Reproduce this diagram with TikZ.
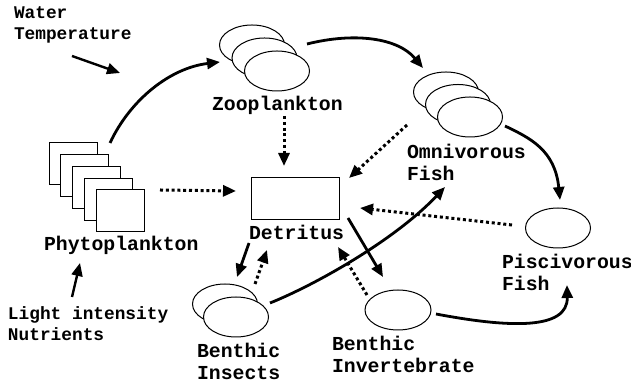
\documentclass[tikz,border=0pt]{standalone}
\usepackage{fontspec}
\newfontfamily\labfont{Liberation Mono}
\usetikzlibrary{arrows.meta, shapes.geometric, calc}

\begin{document}
\begin{tikzpicture}[x=0.5pt, y=-0.5pt, >={Triangle[length=6.5pt,width=5.5pt]},
  every node/.style={inner sep=0pt, outer sep=0pt},
  taxon/.style={font=\labfont\bfseries\fontsize{9.9}{11.4}\selectfont, align=left, anchor=base west},
  factor/.style={font=\labfont\bfseries\fontsize{8.9}{10.5}\selectfont, align=left, anchor=base west},
  blob/.style={ellipse, draw, fill=white, line width=0.5pt, minimum width=32.5pt, minimum height=20pt},
  cell/.style={rectangle, draw, fill=white, line width=0.5pt, minimum width=24pt, minimum height=21pt},
  feed/.style={->, line width=1.4pt},
  decay/.style={->, line width=1.5pt, dash pattern=on 1.5pt off 1.4pt}]
  \useasboundingbox (0,0) rectangle (631,383);

  % Phytoplankton
  \foreach \i/\n in {0/phyA,1/phyB,2/phyC,3/phyD,4/phyE}
    \node[cell] (\n) at (73+11.75*\i, 164+11.75*\i) {};

  % Zooplankton
  \node[blob] (zooA) at (252,45) {};
  \node[blob] (zooB) at (264.5,58) {};
  \node[blob] (zooC) at (277,71) {};

  % Omnivorous fish
  \node[blob] (omniA) at (446,92) {};
  \node[blob] (omniB) at (458,104.5) {};
  \node[blob] (omniC) at (470,117) {};

  % Piscivorous fish, benthos
  \node[blob] (pisc) at (558,228) {};
  \node[blob] (insA) at (225,304) {};
  \node[blob] (insB) at (236,317) {};
  \node[blob, minimum width=33pt] (inv) at (398,310) {};

  % Detritus
  \node[draw, line width=0.5pt, minimum width=44pt, minimum height=21pt] (det) at (295,199) {};

  % Labels (base = last line)
  \node[factor] (water) at (14,40) {Water\\Temperature};
  \node[factor] (light) at (8,341) {Light intensity\\Nutrients};
  \node[taxon] (tZoo) at (212,111) {Zooplankton};
  \node[taxon] (tOmni) at (407,181) {Omnivorous\\Fish};
  \node[taxon] (tPhy) at (44,251) {Phytoplankton};
  \node[taxon] (tDet) at (249,240) {Detritus};
  \node[taxon] (tPisc) at (502,291) {Piscivorous\\Fish};
  \node[taxon] (tIns) at (197,380) {Benthic\\Insects};
  \node[taxon] (tInv) at (332,373) {Benthic\\Invertebrate};

  % Outside factors
  \coordinate (tempIn) at (120,73);
  \draw[->, line width=1.2pt] ($(water.base west)+(58,16)$) -- (tempIn);
  \draw[->, line width=1.2pt] ($(light.base west)+(64,-44)$) -- ($(tPhy.base west)+(36,12)$);

  % Feeding links
  \draw[feed] ($(phyA.north east)+(13,0)$) .. controls +(20,-43) and +(-50,6) .. ($(zooB.west)+(-12,4)$);
  \draw[feed] ($(zooA.east)+(22.5,-1)$) .. controls +(48,-12) and +(-25,-30) .. ($(omniA.west)+(9.5,-24)$);
  \draw[feed] ($(omniC.east)+(2.5,9)$) .. controls +(25,12) and +(-5,-50) .. ($(pisc.north)+(2,-8)$);
  \draw[feed] ($(inv.east)+(5,4)$) .. controls +(74,14) and +(1,45) .. ($(pisc.south)+(9,37)$);
  \draw[feed] ($(insB.north)+(34,6)$) .. controls +(45,-18) and +(-50,53) .. ($(omniC.south)+(-25,50)$);
  \draw[feed] ($(det.south east)+(9,-2)$) -- ($(inv.north)+(-15,-13)$);
  \draw[feed] ($(det.south west)+(-2,23)$) -- ($(insA.north)+(12,-7)$);

  % Detritus links
  \draw[decay] ($(insA.north)+(30,0)$) -- ($(det.south west)+(16,30)$);
  \draw[decay] ($(inv.north)+(-31,5)$) -- ($(det.south east)+(-1,27)$);
  \draw[decay] ($(pisc.west)+(-13.5,-3)$) -- ($(det.east)+(21,9)$);
  \draw[decay] ($(omniA.south)+(-39,13)$) -- ($(det.north east)+(10,0)$);
  \draw[decay] ($(zooC.south)+(7,25)$) -- ($(det.north)+(-11,-12)$);
  \draw[decay] ($(phyE.north east)+(16,0)$) -- ($(det.west)+(-15,-8)$);
\end{tikzpicture}
\end{document}
